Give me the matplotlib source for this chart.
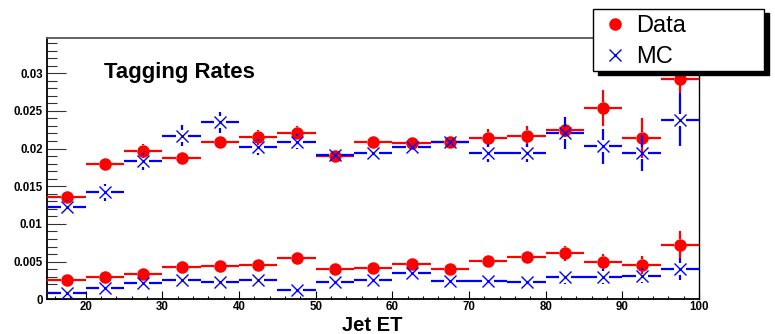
import numpy as np
import matplotlib
matplotlib.use("Agg")
import matplotlib.pyplot as plt
import matplotlib.transforms as mtransforms
from matplotlib.patches import Rectangle
from matplotlib.lines import Line2D

plt.rcParams['font.family'] = ['Liberation Sans', 'DejaVu Sans']
plt.rcParams['font.weight'] = 'bold'

# bins of jet ET (5 GeV wide)
bin_centers = [17.5, 22.5, 27.5, 32.5, 37.5, 42.5, 47.5, 52.5, 57.5,
               62.5, 67.5, 72.5, 77.5, 82.5, 87.5, 92.5, 97.5]
bin_width = 5.0

# upper set of points
data_hi = [0.0136, 0.0179, 0.0197, 0.0187, 0.0209, 0.0215, 0.0221, 0.0190, 0.0208,
           0.0207, 0.0209, 0.0214, 0.0216, 0.0224, 0.0254, 0.0214, 0.0292]
data_hi_err = [0.0005, 0.0006, 0.0009, 0.0006, 0.0008, 0.0010, 0.0009, 0.0005, 0.0005,
               0.0006, 0.0007, 0.0012, 0.0014, 0.0009, 0.0024, 0.0027, 0.0019]
mc_hi = [0.0123, 0.0142, 0.0183, 0.0217, 0.0235, 0.0202, 0.0209, 0.0191, 0.0194,
         0.0202, 0.0209, 0.0194, 0.0194, 0.0221, 0.0203, 0.0194, 0.0238]
mc_hi_err = [0.0009, 0.0011, 0.0011, 0.0014, 0.0014, 0.0010, 0.0010, 0.0006, 0.0005,
             0.0005, 0.0007, 0.0012, 0.0012, 0.0021, 0.0023, 0.0024, 0.0035]

# lower set of points
data_lo = [0.0025, 0.0029, 0.0034, 0.0043, 0.0044, 0.0045, 0.0055, 0.0040, 0.0042,
           0.0047, 0.0040, 0.0051, 0.0056, 0.0061, 0.0049, 0.0045, 0.0072]
data_lo_err = [0.0002, 0.0002, 0.0003, 0.0003, 0.0003, 0.0003, 0.0004, 0.0003, 0.0003,
               0.0004, 0.0004, 0.0005, 0.0006, 0.0010, 0.0011, 0.0012, 0.0019]
mc_lo = [0.0009, 0.0015, 0.0021, 0.0025, 0.0023, 0.0025, 0.0012, 0.0023, 0.0026,
         0.0035, 0.0024, 0.0024, 0.0023, 0.0029, 0.0030, 0.0031, 0.0040]
mc_lo_err = [0.0001, 0.0002, 0.0002, 0.0002, 0.0002, 0.0002, 0.0002, 0.0002, 0.0003,
             0.0004, 0.0003, 0.0003, 0.0004, 0.0009, 0.0010, 0.0010, 0.0015]

x_ticks = [20, 30, 40, 50, 60, 70, 80, 90, 100]
y_ticks = [0, 0.005, 0.01, 0.015, 0.02, 0.025, 0.03]
y_labels = ['0', '0.005', '0.01', '0.015', '0.02', '0.025', '0.03']

W, H = 775, 334
RED = '#ff0000'
BLUE = '#0000ff'
GAP_PX = 6.0   # root leaves a gap round the marker

fig = plt.figure(figsize=(W / 100, H / 100), dpi=100)
ax = fig.add_axes([47.4 / W, 1 - 299.3 / H, (699 - 47.4) / W, (299.3 - 37.7) / H])
ax.set_xlim(15, 100)
ax.set_ylim(0, 0.0347)

# pixel -> data conversion for the marker gap
p0 = ax.transData.transform((15, 0))
p1 = ax.transData.transform((25, 0.01))
gapx = GAP_PX * 10 / (p1[0] - p0[0])
gapy = GAP_PX * 0.01 / (p1[1] - p0[1])


def draw_hist(ax, x, y, err, color, marker, ms, mew, z):
    x = np.asarray(x)
    y = np.asarray(y)
    err = np.asarray(err)
    half = bin_width / 2
    ax.hlines(y, x - half, x - gapx, color=color, lw=1.6, zorder=z)
    ax.hlines(y, x + gapx, x + half, color=color, lw=1.6, zorder=z)
    s = err > gapy
    ax.vlines(x[s], y[s] + gapy, y[s] + err[s], color=color, lw=1.6, zorder=z)
    ax.vlines(x[s], y[s] - err[s], y[s] - gapy, color=color, lw=1.6, zorder=z)
    ax.plot(x, y, ls='none', marker=marker, ms=ms, mew=mew, color=color,
            mfc=color, mec=color, zorder=z + 0.1)


draw_hist(ax, bin_centers, data_hi, data_hi_err, RED, 'o', 9, 0, 3)
draw_hist(ax, bin_centers, data_lo, data_lo_err, RED, 'o', 9, 0, 3)
draw_hist(ax, bin_centers, mc_hi, mc_hi_err, BLUE, 'x', 8.4, 1.0, 4)
draw_hist(ax, bin_centers, mc_lo, mc_lo_err, BLUE, 'x', 8.4, 1.0, 4)

# axes in root style
ax.set_xticks(x_ticks)
ax.set_xticklabels([str(v) for v in x_ticks])
ax.set_xticks(np.arange(16, 100, 2), minor=True)
ax.set_yticks(y_ticks)
ax.set_yticklabels(y_labels)
ax.set_yticks(np.arange(0, 0.0347, 0.001), minor=True)
ax.tick_params(axis='y', which='major', direction='in', length=13.7, width=0.8,
               labelsize=8.3, pad=3.4, color='#333333')
ax.tick_params(axis='y', which='minor', direction='in', length=7, width=0.8,
               color='#333333')
ax.tick_params(axis='x', which='major', direction='in', length=5.5, width=0.8,
               labelsize=8.3, pad=1.0)
ax.tick_params(axis='x', which='minor', direction='in', length=2.5, width=0.8)
ax.tick_params(top=False, right=False, which='both')

for side in ['left', 'bottom']:
    ax.spines[side].set_linewidth(1.3)
    ax.spines[side].set_color('black')
ax.spines['right'].set_linewidth(1.0)
ax.spines['top'].set_linewidth(1.3)
ax.spines['top'].set_color('#555555')

# pixel based transform for the texts and the legend box
pix = mtransforms.Affine2D().scale(1 / W, -1 / H).translate(0, 1) + fig.transFigure

fig.text(104, 78.3, 'Tagging Rates', transform=pix, fontsize=15.9,
         fontweight='bold', va='baseline', ha='left')
fig.text(372, 331.3, 'Jet ET', transform=pix, fontsize=14.5,
         fontweight='bold', va='baseline', ha='center')

# legend with solid shadow
fig.patches.append(Rectangle((598, 13), 171, 61.5, transform=pix,
                             facecolor='black', edgecolor='black', zorder=10))
fig.patches.append(Rectangle((593, 9), 171, 61.5, transform=pix,
                             facecolor='white', edgecolor='black', lw=1.0, zorder=11))
fig.lines.append(Line2D([615], [24], transform=pix, marker='o', ms=9, mew=0,
                        color=RED, zorder=12))
fig.lines.append(Line2D([615], [55], transform=pix, marker='x', ms=8.4, mew=1.0,
                        color=BLUE, zorder=12))
fig.text(636, 32.3, 'Data', transform=pix, fontsize=17, fontweight='normal',
         va='baseline', ha='left', zorder=12)
fig.text(636, 63.3, 'MC', transform=pix, fontsize=17, fontweight='normal',
         va='baseline', ha='left', zorder=12)

fig.savefig('out.png', dpi=100)
